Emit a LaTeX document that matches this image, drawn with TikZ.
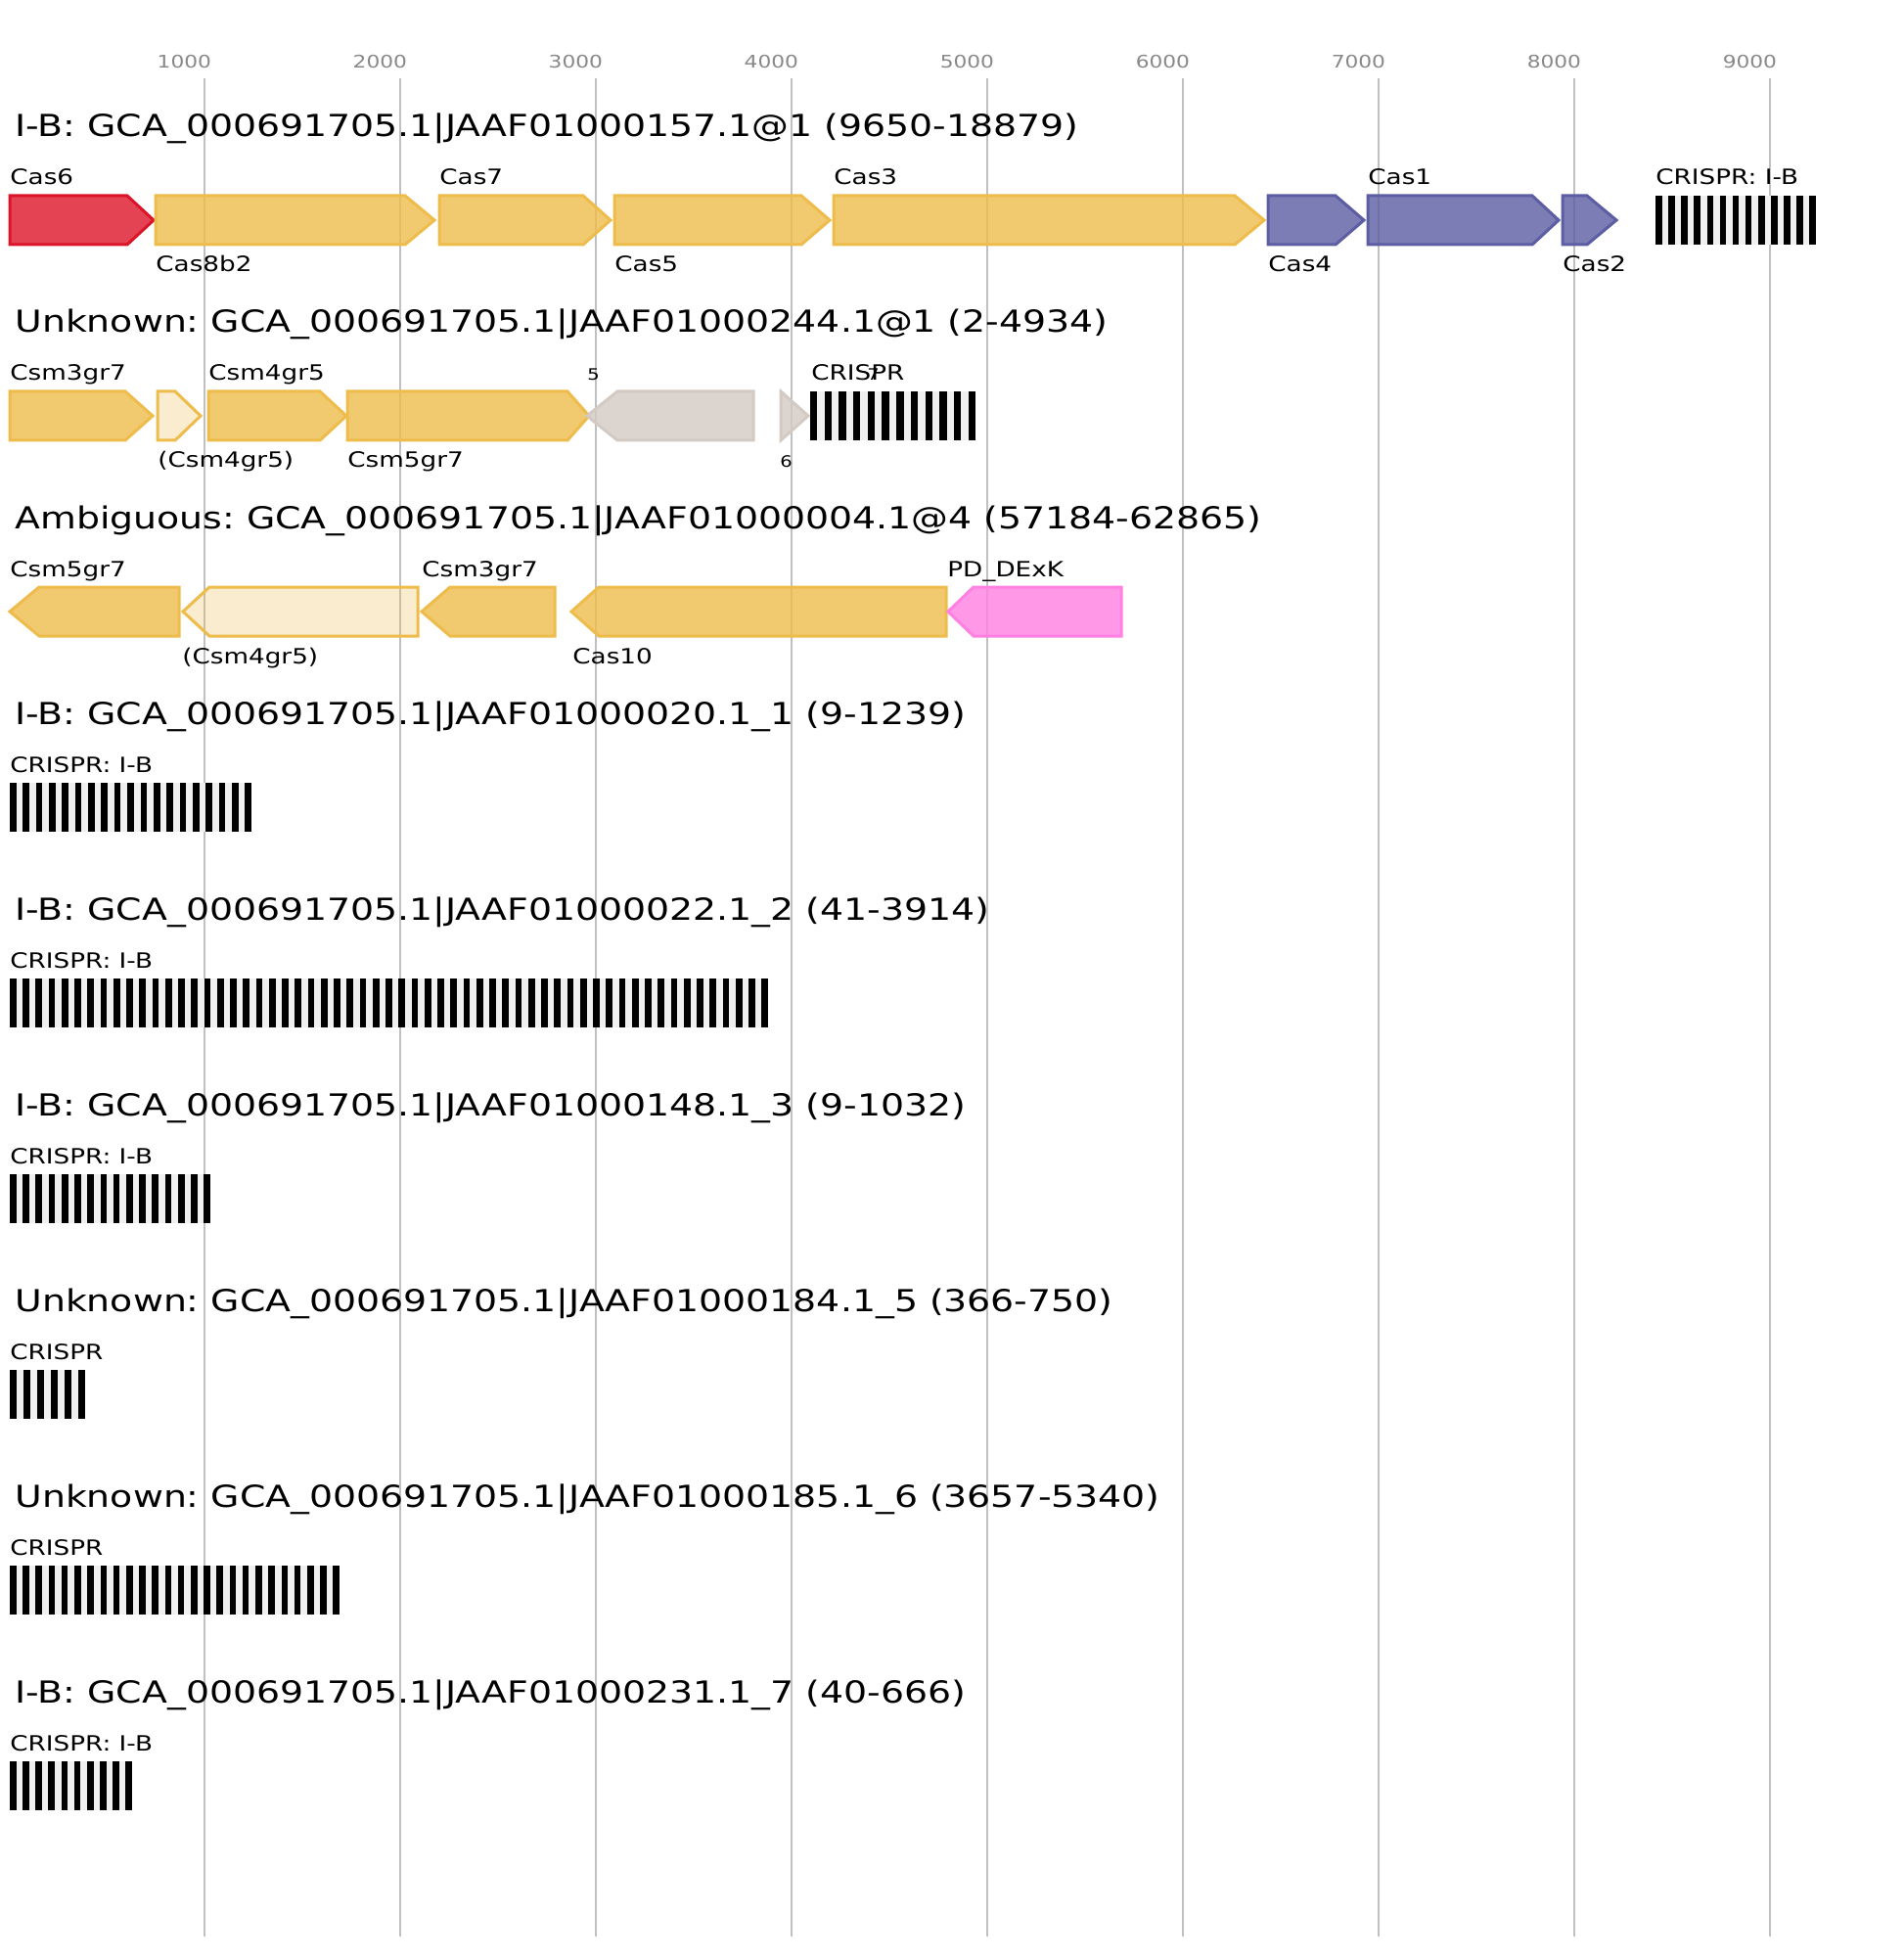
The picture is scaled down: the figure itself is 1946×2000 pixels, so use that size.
\documentclass[tikz,border=0pt]{standalone}
\usepackage{fontspec}
\setmainfont{DejaVu Sans}[FakeStretch=1.22]
\frenchspacing
\definecolor{gyel}{RGB}{238,188,75}
\definecolor{gred}{RGB}{220,20,40}
\definecolor{gblue}{RGB}{92,93,162}
\definecolor{ggrey}{RGB}{211,202,195}
\definecolor{gpink}{RGB}{255,128,226}
\definecolor{gridc}{RGB}{192,192,192}
\definecolor{tickc}{RGB}{136,136,136}
\definecolor{crbg}{RGB}{240,240,240}
\tikzset{
  gene/.style={line width=1.5pt, line join=miter, fill opacity=0.8},
  geneyel/.style={gene, draw=gyel, fill=gyel},
  genelight/.style={gene, draw=gyel, fill=gyel, fill opacity=0.27},
  genered/.style={gene, draw=gred, fill=gred},
  geneblue/.style={gene, draw=gblue, fill=gblue},
  genegrey/.style={gene, draw=ggrey, fill=ggrey},
  genepink/.style={gene, draw=gpink, fill=gpink},
  gridline/.style={draw=gridc, line width=1pt},
  ttl/.style={font=\fontsize{15.5}{18}\selectfont, inner sep=0pt, anchor=base west},
  lab/.style={font=\fontsize{10.75}{12}\selectfont, inner sep=0pt, anchor=base west},
  sml/.style={font=\fontsize{8}{9}\selectfont, inner sep=0pt, anchor=base west},
  tck/.style={font=\fontsize{8.9}{10}\selectfont, text=tickc, inner sep=0pt, anchor=base east},
}
\newcommand{\genefwd}[5]{\draw[#1] (#2,#5) -- (#3,#5) -- (#4,{#5+25}) -- (#3,{#5+50}) -- (#2,{#5+50}) -- cycle;}
\newcommand{\generev}[5]{\draw[#1] (#2,{#5+25}) -- (#3,#5) -- (#4,#5) -- (#4,{#5+50}) -- (#3,{#5+50}) -- cycle;}
\newcommand{\crisprarr}[4]{%
  \fill[crbg] (#1,#4) rectangle (#2,{#4+50});
  \pgfmathsetmacro{\crp}{(#2-#1)/(#3-0.5)}
  \foreach \k in {1,...,#3} {\fill[black] ({#1+(\k-1)*\crp},#4) rectangle ({#1+(\k-1)*\crp+0.5*\crp},{#4+50});}
}
\begin{document}
\begin{tikzpicture}[x=0.5pt,y=-0.5pt]
\fill[white] (0,0) rectangle (1946,2000);
\useasboundingbox (0,0) rectangle (1946,2000);
% grid
\foreach \g in {1,...,9} {
  \draw[gridline] ({9.4+200*\g},80) -- ({9.4+200*\g},1979);
  \node[tck] (tk\g) at ({9.4+200*\g+7},69.5) {\g000};
}
% titles
\node[ttl] (t1) at (15,140) {I-B: GCA\_000691705.1|JAAF01000157.1@1 (9650-18879)};
\node[ttl] (t2) at (15,340) {Unknown: GCA\_000691705.1|JAAF01000244.1@1 (2-4934)};
\node[ttl] (t3) at (15,540) {Ambiguous: GCA\_000691705.1|JAAF01000004.1@4 (57184-62865)};
\node[ttl] (t4) at (15,740) {I-B: GCA\_000691705.1|JAAF01000020.1\_1 (9-1239)};
\node[ttl] (t5) at (15,940) {I-B: GCA\_000691705.1|JAAF01000022.1\_2 (41-3914)};
\node[ttl] (t6) at (15,1140) {I-B: GCA\_000691705.1|JAAF01000148.1\_3 (9-1032)};
\node[ttl] (t7) at (15,1340) {Unknown: GCA\_000691705.1|JAAF01000184.1\_5 (366-750)};
\node[ttl] (t8) at (15,1540) {Unknown: GCA\_000691705.1|JAAF01000185.1\_6 (3657-5340)};
\node[ttl] (t9) at (15,1740) {I-B: GCA\_000691705.1|JAAF01000231.1\_7 (40-666)};
% row 1
\genefwd{genered}{10}{130}{157}{200}
\genefwd{geneyel}{159}{414}{444}{200}
\genefwd{geneyel}{449}{596}{624}{200}
\genefwd{geneyel}{628}{819}{848}{200}
\genefwd{geneyel}{852}{1262}{1292}{200}
\genefwd{geneblue}{1296}{1365}{1394}{200}
\genefwd{geneblue}{1398}{1566}{1593}{200}
\genefwd{geneblue}{1597}{1622}{1652}{200}
\crisprarr{1692}{1856}{13}{200}
\node[lab] (l1a) at (10,189) {Cas6};
\node[lab] (l1b) at (159,278) {Cas8b2};
\node[lab] (l1c) at (449,189) {Cas7};
\node[lab] (l1d) at (628,278) {Cas5};
\node[lab] (l1e) at (852,189) {Cas3};
\node[lab] (l1f) at (1296,278) {Cas4};
\node[lab] (l1g) at (1398,189) {Cas1};
\node[lab] (l1h) at (1597,278) {Cas2};
\node[lab] (l1i) at (1692,189) {CRISPR: I-B};
% row 2
\genefwd{geneyel}{10}{128}{156}{400}
\genefwd{genelight}{161}{179}{205}{400}
\genefwd{geneyel}{213}{327}{354}{400}
\genefwd{geneyel}{355}{580}{602}{400}
\generev{genegrey}{600}{631}{770}{400}
\draw[genegrey] (798,400) -- (826,425) -- (798,450) -- cycle;
\crisprarr{828}{997}{12}{400}
\node[lab] (l2a) at (10,389) {Csm3gr7};
\node[lab] (l2b) at (161,478) {(Csm4gr5)};
\node[lab] (l2c) at (213,389) {Csm4gr5};
\node[lab] (l2d) at (355,478) {Csm5gr7};
\node[sml] (l2e) at (600,389) {5};
\node[sml] (l2f) at (797,478) {6};
\node[lab] (l2g) at (829,389) {CRISPR};
\node[sml] (l2h) at (886,389) {7};
% row 3
\generev{geneyel}{10}{40}{183}{600}
\generev{genelight}{187}{214}{427}{600}
\generev{geneyel}{431}{460}{567}{600}
\generev{geneyel}{584}{612}{967}{600}
\generev{genepink}{969}{995}{1146}{600}
\node[lab] (l3a) at (10,589) {Csm5gr7};
\node[lab] (l3b) at (186,678) {(Csm4gr5)};
\node[lab] (l3c) at (431,589) {Csm3gr7};
\node[lab] (l3d) at (585,678) {Cas10};
\node[lab] (l3e) at (968,589) {PD\_DExK};
% rows 4-9
\crisprarr{10}{257}{19}{800}
\node[lab] (l4) at (10,789) {CRISPR: I-B};
\crisprarr{10}{785}{59}{1000}
\node[lab] (l5) at (10,989) {CRISPR: I-B};
\crisprarr{10}{215}{16}{1200}
\node[lab] (l6) at (10,1189) {CRISPR: I-B};
\crisprarr{10}{87}{6}{1400}
\node[lab] (l7) at (10,1389) {CRISPR};
\crisprarr{10}{347}{26}{1600}
\node[lab] (l8) at (10,1589) {CRISPR};
\crisprarr{10}{135}{10}{1800}
\node[lab] (l9) at (10,1789) {CRISPR: I-B};
\end{tikzpicture}
\end{document}
